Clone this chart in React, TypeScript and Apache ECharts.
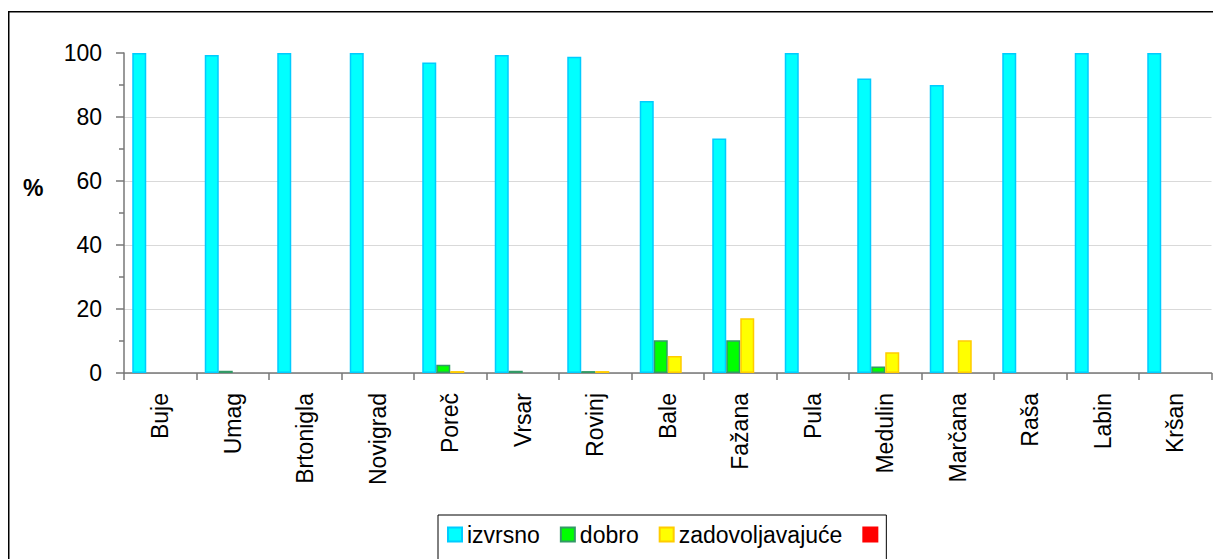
import React, { useEffect, useRef } from "react";
import * as echarts from "echarts";

const categories = ["Buje", "Umag", "Brtonigla", "Novigrad", "Poreč", "Vrsar", "Rovinj", "Bale", "Fažana", "Pula", "Medulin", "Marčana", "Raša", "Labin", "Kršan"];
const izvrsno = [100, 99.4, 100, 100, 97, 99.4, 98.8, 85, 73.3, 100, 92, 90, 100, 100, 100];
const dobro = [0, 0.7, 0, 0, 2.6, 0.7, 0.6, 10.2, 10.2, 0, 2, 0, 0, 0, 0];
const zadovoljavajuce = [0, 0, 0, 0, 0.6, 0, 0.6, 5.3, 17.1, 0, 6.5, 10.2, 0, 0, 0];
const nezadovoljavajuce = [0, 0, 0, 0, 0, 0, 0, 0, 0, 0, 0, 0, 0, 0, 0];
const seriesNames = ["izvrsno", "dobro", "zadovoljavajuće", "\u200b"];
const yTicks = [0, 20, 40, 60, 80, 100];

const FONT = "'Liberation Sans', Arial, sans-serif";

export default function App() {
  const ref = useRef<HTMLDivElement>(null);
  useEffect(() => {
    if (!ref.current) return;
    const chart = echarts.init(ref.current, null, { renderer: "svg" });
    const toData = (arr: number[]) => arr.map((v) => (v === 0 ? null : v));
    const styles = [
      { color: "#00ffff", borderColor: "#00ccff" },
      { color: "#00ff00", borderColor: "#339966" },
      { color: "#ffff00", borderColor: "#ffcc00" },
      { color: "#ff0000", borderColor: "#ff0000" },
    ];
    const values = [izvrsno, dobro, zadovoljavajuce, nezadovoljavajuce];
    chart.setOption({
      animation: false,
      textStyle: { fontFamily: FONT },
      grid: { left: 116, top: 45, width: 1087.5, height: 320, containLabel: false },
      graphic: [
        {
          type: "rect",
          shape: { x: 0.75, y: 3.75, width: 1400, height: 800 },
          style: { fill: "none", stroke: "#000", lineWidth: 1.5 },
          silent: true,
          z: 100,
        },
        {
          type: "text",
          x: 15,
          y: 168,
          style: { text: "%", fontSize: 23, fontWeight: "bold", fontFamily: FONT, fill: "#000" },
        },
      ],
      legend: {
        data: seriesNames,
        left: 430,
        top: 507,
        padding: [8, 4, 60, 9],
        itemGap: 20,
        itemWidth: 14,
        itemHeight: 14,
        icon: "rect",
        borderColor: "#000",
        borderWidth: 1,
        textStyle: { fontSize: 23, fontFamily: FONT, color: "#000" },
      },
      xAxis: {
        type: "category",
        data: categories,
        boundaryGap: true,
        axisLine: { lineStyle: { color: "#777", width: 1.5 } },
        axisTick: { show: true, alignWithLabel: false, length: 7, lineStyle: { color: "#777", width: 1.5 } },
        axisLabel: { rotate: 90, fontSize: 23, color: "#000", margin: 20, fontFamily: FONT, interval: 0 },
        splitLine: { show: false },
      },
      yAxis: {
        type: "value",
        min: yTicks[0],
        max: yTicks[yTicks.length - 1],
        interval: 20,
        axisLine: { show: true, lineStyle: { color: "#777", width: 1.5 } },
        axisTick: { show: true, length: 8, lineStyle: { color: "#777", width: 1.5 } },
        minorTick: { show: true, splitNumber: 2, length: 5, lineStyle: { color: "#777", width: 1.5 } },
        axisLabel: { fontSize: 23, color: "#000", margin: 22, fontFamily: FONT },
        splitLine: { show: true, showMaxLine: false, lineStyle: { color: "#d9d9d9", width: 1 } },
      },
      series: seriesNames.map((name, i) => ({
        name,
        type: "bar",
        data: toData(values[i]),
        barWidth: 14,
        barGap: "0%",
        itemStyle: { color: styles[i].color, borderColor: styles[i].borderColor, borderWidth: 1.5 },
      })),
    });
    return () => chart.dispose();
  }, []);
  return <div ref={ref} style={{ width: 1213, height: 551 }} />;
}
